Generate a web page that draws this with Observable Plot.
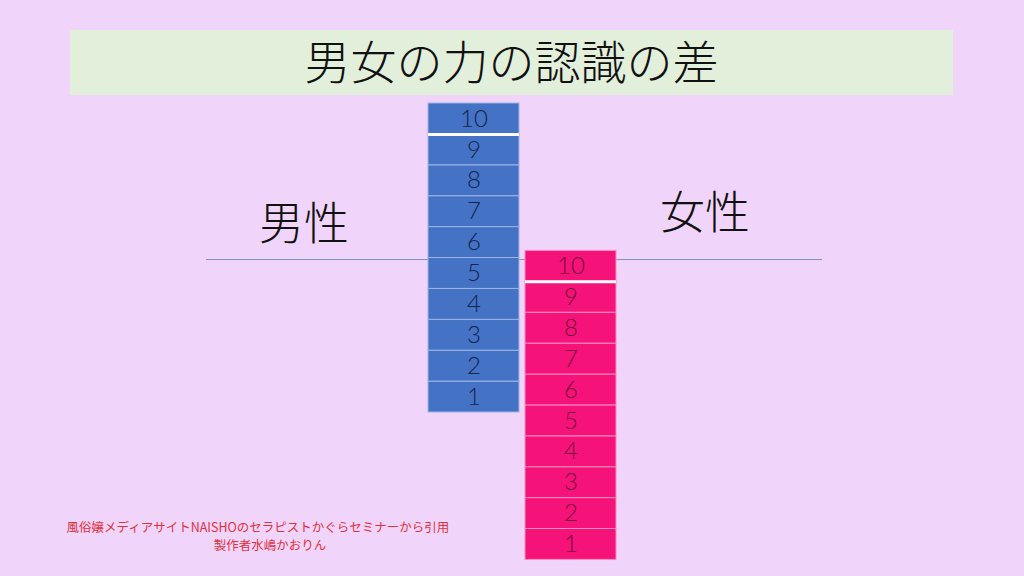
<!DOCTYPE html>
<html>
<head>
<meta charset="utf-8">
<script src="https://cdn.jsdelivr.net/npm/d3@7"></script>
<script src="https://cdn.jsdelivr.net/npm/@observablehq/plot@0.6"></script>
<style>
  html, body { margin: 0; padding: 0; background: #f0d4fa; overflow: hidden; }
  #wrap { position: relative; width: 1024px; height: 576px; font-family: "Noto Sans CJK JP", sans-serif; }
  #title { position: absolute; left: 70px; top: 30px; width: 883px; height: 65px; background: #e2efda;
           font-size: 46px; font-weight: 300; line-height: 58px; text-align: center; color: #111; }
  #chart { position: absolute; left: 0; top: 0; }
  #note { position: absolute; left: 48px; top: 518px; width: 420px; text-align: center; color: #e2323c;
          font-size: 12.5px; line-height: 18px; }
  #note div:nth-child(2) { padding-left: 24px; }
</style>
</head>
<body>
<div id="wrap">
  <div id="chart"></div>
  <div id="title"></div>
  <div id="note"></div>
</div>
<script>
// ---- data ----
const titleText = "男女の力の認識の差";
const genders = ["男性", "女性"];
const levels = [1, 2, 3, 4, 5, 6, 7, 8, 9, 10];
const levelLabels = ["1", "2", "3", "4", "5", "6", "7", "8", "9", "10"];
const noteLines = ["風俗嬢メディアサイトNAISHOのセラピストかぐらセミナーから引用", "製作者水嶋かおりん"];

// how far the female scale is shifted down relative to the male scale (in levels)
const genderBase = {"男性": 0, "女性": -4.77};
const dividerLevel = 4.95;

const fills = {"男性": "#4472c4", "女性": "#f5137a"};
const strokes = {"男性": "#9db4e4", "女性": "#f98cbf"};
const textColors = {"男性": "#15244a", "女性": "#7a0b3c"};

const blocks = genders.flatMap(g => levels.map((lv, i) => ({
  gender: g, level: lv, label: levelLabels[i],
  y1: genderBase[g] + lv - 1, y2: genderBase[g] + lv
})));
const tops = genders.map(g => ({gender: g, y: genderBase[g] + 9}));
const maleLabel = [{gender: "男性", y: 6.05}];
const femaleLabel = [{gender: "女性", y: 6.4}];

document.getElementById("title").textContent = titleText;
document.getElementById("note").innerHTML = noteLines.map(s => `<div>${s}</div>`).join("");

const chart = Plot.plot({
  width: 1024,
  height: 576,
  margin: 0,
  style: {background: "transparent", fontFamily: "'Noto Sans CJK JP', sans-serif"},
  x: {type: "band", domain: genders, range: [427, 616], paddingInner: 0.062, paddingOuter: 0, axis: null},
  y: {domain: [0, 10], range: [412, 103], axis: null},
  marks: [
    Plot.ruleY([dividerLevel], {stroke: "#7f93b5", strokeWidth: 1, insetLeft: 206, insetRight: 202}),
    Plot.rectY(blocks, {
      x: "gender", y1: "y1", y2: "y2",
      fill: d => fills[d.gender], stroke: d => strokes[d.gender], strokeWidth: 1
    }),
    Plot.tickY(tops, {x: "gender", y: "y", stroke: "white", strokeWidth: 3}),
    Plot.text(blocks, {
      x: "gender", y: d => (d.y1 + d.y2) / 2, text: "label",
      fill: d => textColors[d.gender], fontSize: 24, fontWeight: 300, fontFamily: "Lato, sans-serif"
    }),
    Plot.text(maleLabel, {x: "gender", y: "y", dx: -170, text: "gender", fill: "#111", fontSize: 45, fontWeight: 300}),
    Plot.text(femaleLabel, {x: "gender", y: "y", dx: 134, text: "gender", fill: "#111", fontSize: 45, fontWeight: 300})
  ]
});
document.getElementById("chart").appendChild(chart);
</script>
</body>
</html>
